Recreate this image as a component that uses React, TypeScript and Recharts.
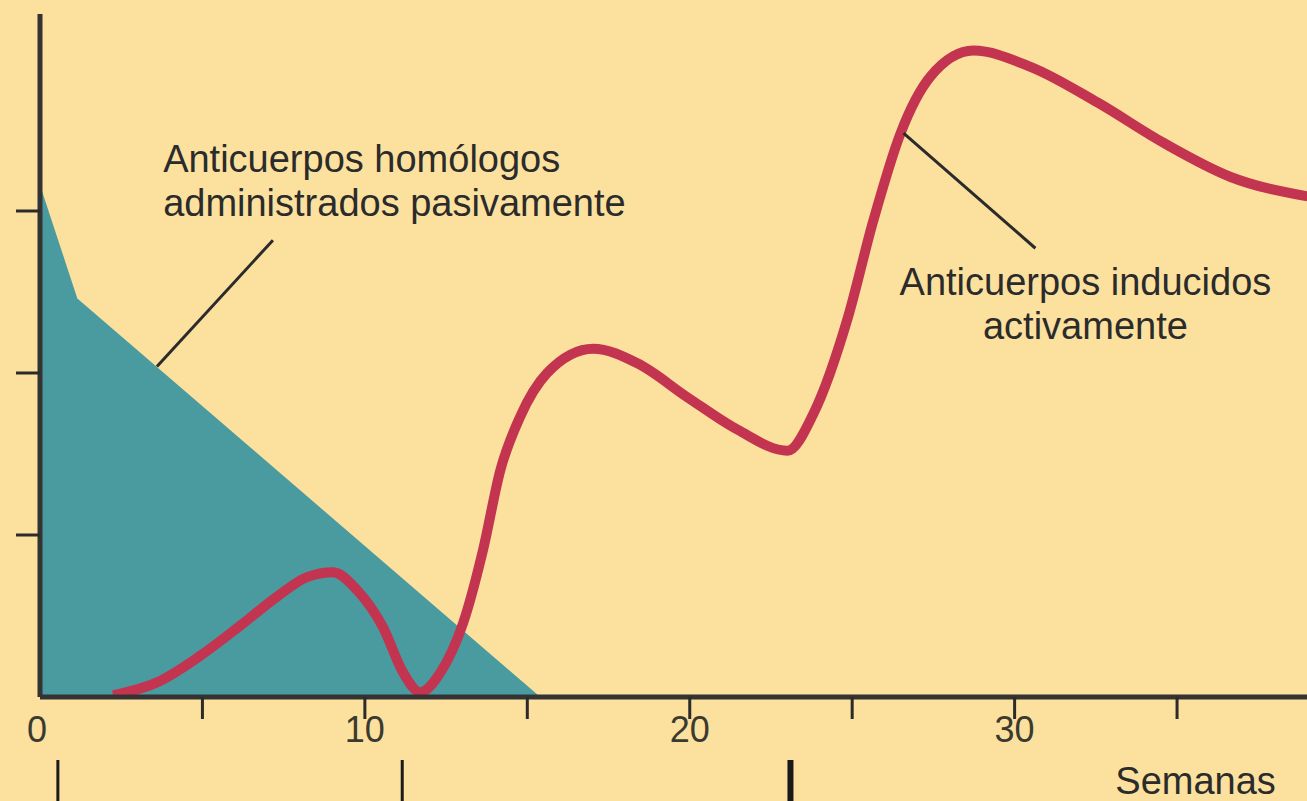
import React from 'react'
import {
  ComposedChart, Area, Line, XAxis, YAxis, ReferenceLine, ReferenceDot,
} from 'recharts'

// weeks on x, relative antibody level on y
const passiveWeeks = [0, 1.15, 15.4]
const passiveLevel = [3.16, 2.46, 0]

const activeWeeks = [
  2.25, 3.6, 4.9, 6.16, 7.3, 8.22, 9.02, 9.76, 10.56, 11.18, 11.7, 12.32,
  13.03, 13.64, 14.17, 14.78, 15.61, 17.03, 18.39, 19.93, 21.47, 23.01,
  23.81, 24.85, 25.65, 26.49, 27.41, 28.73, 30.49, 32.55, 34.59, 36.65, 39.02,
]
const activeLevel = [
  0.01, 0.09, 0.25, 0.44, 0.62, 0.74, 0.77, 0.66, 0.43, 0.15, 0.03, 0.15,
  0.46, 0.91, 1.4, 1.73, 2.0, 2.15, 2.06, 1.85, 1.65, 1.52,
  1.75, 2.33, 2.94, 3.48, 3.83, 3.99, 3.89, 3.67, 3.42, 3.21, 3.09,
]

const weekTicks = [0, 5, 10, 15, 20, 25, 30, 35]
const levelTicks = [1, 2, 3]
const eventWeeks = [0.55, 11.15, 23.1]

const passiveData = passiveWeeks.map((week, i) => ({ week, level: passiveLevel[i] }))
const activeData = activeWeeks.map((week, i) => ({ week, level: activeLevel[i] }))

const BG = '#FCE19E'
const TEAL = '#4A9BA0'
const RED = '#C2344F'
const INK = '#2b2b2b'
const FONT = '"Liberation Sans", Arial, sans-serif'

const WeekTick = (props: any) => {
  const { x, y, payload } = props
  const v = payload.value as number
  return (
    <g>
      {v !== 0 && <line x1={x} x2={x} y1={y - 22} y2={y} stroke={INK} strokeWidth={3} />}
      {v % 10 === 0 && (
        <text x={v === 0 ? x - 3 : x} y={y + 23} textAnchor="middle" fontSize={36} fill="#3a3a30" fontFamily={FONT}>
          {v}
        </text>
      )}
    </g>
  )
}

const EventTick = (props: any) => {
  const { x, y, index } = props
  return <line x1={x} x2={x} y1={y + 8} y2={y + 49} stroke="#1a1a1a" strokeWidth={index === 2 ? 6 : 3} />
}

const NoTick = () => <g />

const note = (lines: string[], anchor: 'start' | 'middle' | 'end') => (p: any) => (
  <text x={p.cx} y={p.cy} textAnchor={anchor} fontSize={38} fill={INK} fontFamily={FONT}>
    {lines.map((l, i) => (
      <tspan key={i} x={p.cx} dy={i === 0 ? 0 : 44}>{l}</tspan>
    ))}
  </text>
)

export default function App() {
  return (
    <div style={{ position: 'absolute', left: 0, top: 0, width: 1307, height: 801, background: BG }}>
      <ComposedChart width={1307} height={801} margin={{ top: 14, right: 0, bottom: 0, left: 0 }}>
        <XAxis
          xAxisId="a"
          dataKey="week"
          type="number"
          domain={[0, 39]}
          ticks={weekTicks}
          allowDataOverflow
          height={55}
          tickSize={22}
          tickMargin={0}
          tickLine={false}
          axisLine={{ stroke: '#333', strokeWidth: 5 }}
          tick={<WeekTick />}
        />
        <XAxis
          xAxisId="b"
          dataKey="week"
          type="number"
          domain={[0, 39]}
          ticks={eventWeeks}
          allowDataOverflow
          height={49}
          tickSize={0}
          tickMargin={0}
          tickLine={false}
          axisLine={false}
          tick={<EventTick />}
        />
        <YAxis
          type="number"
          domain={[0, 4.216]}
          ticks={levelTicks}
          allowDataOverflow
          width={40}
          tickSize={24}
          tickLine={{ stroke: INK, strokeWidth: 3 }}
          axisLine={{ stroke: '#333', strokeWidth: 5 }}
          tick={<NoTick />}
        />
        <Area
          xAxisId="a"
          data={passiveData}
          dataKey="level"
          type="linear"
          fill={TEAL}
          fillOpacity={1}
          stroke="none"
          isAnimationActive={false}
        />
        <Line
          xAxisId="a"
          data={activeData}
          dataKey="level"
          type="monotone"
          stroke={RED}
          strokeWidth={10}
          dot={false}
          activeDot={false}
          isAnimationActive={false}
        />
        <ReferenceLine
          xAxisId="a"
          segment={[{ x: 3.6, y: 2.04 }, { x: 7.17, y: 2.82 }]}
          stroke={INK}
          strokeWidth={3}
          ifOverflow="visible"
        />
        <ReferenceLine
          xAxisId="a"
          segment={[{ x: 26.58, y: 3.48 }, { x: 30.64, y: 2.77 }]}
          stroke={INK}
          strokeWidth={3}
          ifOverflow="visible"
        />
        <ReferenceDot
          xAxisId="a"
          x={3.79}
          y={3.24}
          r={0}
          ifOverflow="visible"
          shape={note(['Anticuerpos homólogos', 'administrados pasivamente'], 'start')}
        />
        <ReferenceDot
          xAxisId="a"
          x={32.18}
          y={2.48}
          r={0}
          ifOverflow="visible"
          shape={note(['Anticuerpos inducidos', 'activamente'], 'middle')}
        />
        <ReferenceDot
          xAxisId="a"
          x={35.57}
          y={-0.6}
          r={0}
          ifOverflow="visible"
          shape={note(['Semanas'], 'middle')}
        />
      </ComposedChart>
    </div>
  )
}
